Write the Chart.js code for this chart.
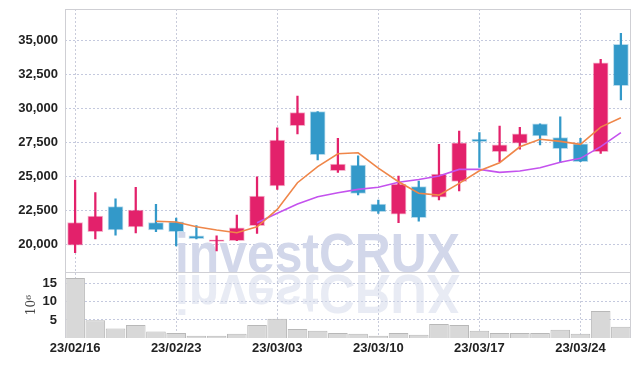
<!DOCTYPE html>
<html><head><meta charset="utf-8">
<script src="https://cdn.jsdelivr.net/npm/chart.js@4.4.1/dist/chart.umd.min.js"></script>
<style>html,body{margin:0;padding:0;background:#fff}#wrap{width:639px;height:366px;position:relative}</style>
</head><body><div id="wrap"><canvas id="c" width="639" height="366"></canvas></div>
<script>
const dates = ['23/02/16','23/02/17','23/02/20','23/02/21','23/02/22','23/02/23','23/02/24','23/02/27','23/02/28','23/03/02','23/03/03','23/03/06','23/03/07','23/03/08','23/03/09','23/03/10','23/03/13','23/03/14','23/03/15','23/03/16','23/03/17','23/03/20','23/03/21','23/03/22','23/03/23','23/03/24','23/03/27','23/03/28'];
const openP  = [19930,20930,22770,21270,21590,21660,20630,20210,20270,21370,24290,28720,29750,25410,25830,22960,22210,24240,23460,24630,27740,26810,27430,28850,27840,27380,26810,34710];
const closeP = [21600,22080,21050,22520,21050,20930,20410,20330,21220,23550,27670,29680,26590,25900,23750,22400,24430,21960,25170,27470,27550,27320,28130,27960,27030,26070,33350,31660];
const highP  = [24730,23800,23350,24190,22940,21930,21370,20630,22150,24970,28570,30900,29760,27790,26500,23260,25020,24650,27350,28330,28210,28700,28600,28850,29380,27790,33600,35520];
const lowP   = [19380,20390,20680,20830,20930,19880,20390,19510,20260,20810,24040,28110,26200,25290,23630,22280,21590,21710,23260,23920,25660,26070,26990,27300,26000,26070,26690,30610];
const ma5  = [null,null,null,null,21700,21640,21290,21050,20850,21290,22570,24530,25710,26660,26730,25600,24600,23750,23620,24480,25410,26000,27170,27720,27570,27350,28620,29300];
const ma10 = [null,null,null,null,null,null,null,null,null,21590,22280,22960,23500,23790,24040,24200,24560,24760,25020,25510,25510,25290,25390,25630,26030,26320,27180,28210];
const volumeM = [16.6,4.9,2.6,3.6,1.8,1.4,0.6,0.6,1.2,3.6,5.3,2.5,2.0,1.4,1.2,0.6,1.4,0.9,3.9,3.6,2.0,1.4,1.4,1.4,2.3,1.2,7.5,3.1];
const priceTicks = [20000,22500,25000,27500,30000,32500,35000];
const volumeTicks = [5,10,15];
const xTickLabels = ['23/02/16','23/02/23','23/03/03','23/03/10','23/03/17','23/03/24'];

const RED = '#e3216b', BLUE = '#3399c9';
const up = openP.map((o,i)=> closeP[i] >= o);
const candleCol = up.map(u => u ? RED : BLUE);
const haloCol = up.map(u => u ? 'rgba(227,33,107,0.35)' : 'rgba(51,153,201,0.35)');

const tickFont = {family:'"Liberation Sans", Arial, sans-serif', size:13, weight:'bold'};

const watermark = {
  id:'wm',
  beforeDatasetsDraw(chart){
    const ctx = chart.ctx; const a = chart.chartArea;
    ctx.save();
    ctx.beginPath(); ctx.rect(a.left, a.top, a.right-a.left, a.bottom-a.top); ctx.clip();
    ctx.font = 'bold 56px "Liberation Sans", Arial, sans-serif';
    const text = 'investCRUX';
    const w = ctx.measureText(text).width;
    const sx = 285 / w;
    const x0 = 175, base = 272;
    ctx.fillStyle = '#d2d7ea';
    ctx.save(); ctx.translate(x0, base); ctx.scale(sx, 1); ctx.fillText(text, 0, 0); ctx.restore();
    ctx.globalAlpha = 0.5;
    ctx.save(); ctx.translate(x0, base + 3); ctx.scale(sx, -1); ctx.fillText(text, 0, 0); ctx.restore();
    ctx.restore();
  }
};
const frame = {
  id:'frame',
  afterDatasetsDraw(chart){
    const ctx = chart.ctx; const a = chart.chartArea; const y = chart.scales.y;
    ctx.save();
    ctx.strokeStyle = '#cfcfd4'; ctx.lineWidth = 1;
    ctx.beginPath();
    ctx.moveTo(a.left, a.top + 0.5); ctx.lineTo(a.right, a.top + 0.5);
    ctx.moveTo(a.left + 0.5, a.top); ctx.lineTo(a.left + 0.5, a.bottom);
    ctx.moveTo(a.right - 0.5, a.top); ctx.lineTo(a.right - 0.5, a.bottom);
    ctx.moveTo(a.left, Math.round(y.bottom) + 0.5); ctx.lineTo(a.right, Math.round(y.bottom) + 0.5);
    ctx.stroke();
    ctx.restore();
  }
};
function noPad(s){ s.paddingTop = 0; s.paddingBottom = 0; }

new Chart(document.getElementById('c'), {
  type:'bar',
  data:{
    labels: dates,
    datasets:[
      {type:'line', label:'MA5', data: ma5, yAxisID:'y', borderColor:'#ef8649', borderWidth:1.6, pointRadius:0, tension:0, order:0},
      {type:'line', label:'MA10', data: ma10, yAxisID:'y', borderColor:'#c452ee', borderWidth:1.6, pointRadius:0, tension:0, order:1},
      {label:'body', data: openP.map((o,i)=>[o, closeP[i]]), yAxisID:'y', backgroundColor: candleCol, borderColor: haloCol, borderWidth:1, borderSkipped:false, barThickness:15, grouped:false, order:2},
      {label:'wick', data: lowP.map((l,i)=>[l, highP[i]]), yAxisID:'y', backgroundColor: candleCol, borderWidth:0, barThickness:1.6, grouped:false, order:3},
      {label:'volume', data: volumeM, yAxisID:'yv', backgroundColor:'#d8d8d8', borderColor:'#b8b8b8', borderWidth:1, barPercentage:0.97, categoryPercentage:1, grouped:false, order:4}
    ]
  },
  options:{
    responsive:false, animation:false, devicePixelRatio:1,
    layout:{padding:{top:9, right:8, left:0, bottom:0}},
    plugins:{legend:{display:false}, tooltip:{enabled:false}},
    scales:{
      x:{
        offset:true,
        grid:{offset:false, color:'rgba(165,170,195,0.6)', lineWidth:1, drawTicks:false, tickLength:0},
        border:{display:false, dash:[2,2]},
        ticks:{autoSkip:false, maxRotation:0, padding:3, color:'#222', font:tickFont},
        afterBuildTicks(s){ s.ticks = s.ticks.filter(t => xTickLabels.includes(dates[t.value])); },
        afterFit(s){ s.height = 28; s.paddingLeft = 0; s.paddingRight = 0; }
      },
      yv:{
        position:'left', stack:'p', stackWeight:1, min:0, max:18.2,
        grid:{color:'rgba(165,172,205,0.65)', drawTicks:false, tickLength:0},
        border:{display:false, dash:[2,2]},
        ticks:{autoSkip:false, padding:8, color:'#222', font:tickFont},
        title:{display:true, text:'10\u2076', color:'#444', font:{family:'"DejaVu Serif", serif', size:12}, padding:{top:25, bottom:0}},
        afterBuildTicks(s){ s.ticks = volumeTicks.map(v=>({value:v})); },
        afterFit(s){ s.width = 65; noPad(s); }
      },
      y:{
        position:'left', stack:'p', stackWeight:4, min:17950, max:37300,
        grid:{color:'rgba(165,172,205,0.65)', drawTicks:false, tickLength:0},
        border:{display:false, dash:[2,2]},
        ticks:{autoSkip:false, padding:7, color:'#222', font:tickFont, callback:v => v.toLocaleString('en-US')},
        afterBuildTicks(s){ s.ticks = priceTicks.map(v=>({value:v})); },
        afterFit(s){ s.width = 65; noPad(s); }
      }
    }
  },
  plugins:[watermark, frame]
});
</script></body></html>
